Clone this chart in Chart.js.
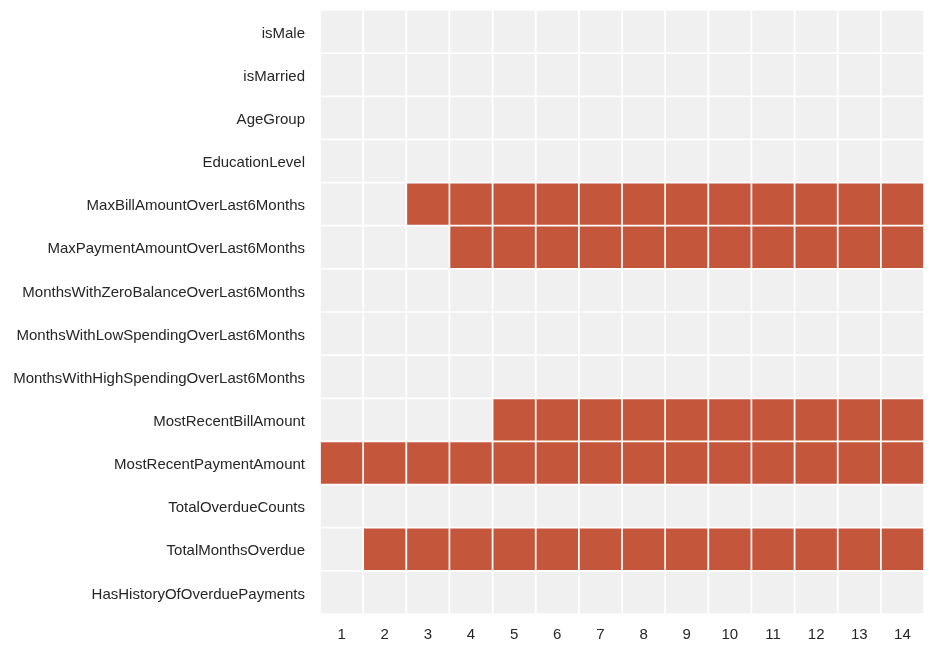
<!DOCTYPE html>
<html>
<head>
<meta charset="utf-8">
<script src="https://cdn.jsdelivr.net/npm/chart.js@4/dist/chart.umd.min.js"></script>
<style>
  html, body { margin: 0; padding: 0; background: #fff; }
  #wrap { width: 933px; height: 651px; }
</style>
</head>
<body>
<div id="wrap"><canvas id="heat"></canvas></div>
<script>
const features = [
  "isMale",
  "isMarried",
  "AgeGroup",
  "EducationLevel",
  "MaxBillAmountOverLast6Months",
  "MaxPaymentAmountOverLast6Months",
  "MonthsWithZeroBalanceOverLast6Months",
  "MonthsWithLowSpendingOverLast6Months",
  "MonthsWithHighSpendingOverLast6Months",
  "MostRecentBillAmount",
  "MostRecentPaymentAmount",
  "TotalOverdueCounts",
  "TotalMonthsOverdue",
  "HasHistoryOfOverduePayments",
];
const featureCounts = [1, 2, 3, 4, 5, 6, 7, 8, 9, 10, 11, 12, 13, 14];

// 1 = feature selected at that number of features
const selected = [
  [0, 0, 0, 0, 0, 0, 0, 0, 0, 0, 0, 0, 0, 0],
  [0, 0, 0, 0, 0, 0, 0, 0, 0, 0, 0, 0, 0, 0],
  [0, 0, 0, 0, 0, 0, 0, 0, 0, 0, 0, 0, 0, 0],
  [0, 0, 0, 0, 0, 0, 0, 0, 0, 0, 0, 0, 0, 0],
  [0, 0, 1, 1, 1, 1, 1, 1, 1, 1, 1, 1, 1, 1],
  [0, 0, 0, 1, 1, 1, 1, 1, 1, 1, 1, 1, 1, 1],
  [0, 0, 0, 0, 0, 0, 0, 0, 0, 0, 0, 0, 0, 0],
  [0, 0, 0, 0, 0, 0, 0, 0, 0, 0, 0, 0, 0, 0],
  [0, 0, 0, 0, 0, 0, 0, 0, 0, 0, 0, 0, 0, 0],
  [0, 0, 0, 0, 1, 1, 1, 1, 1, 1, 1, 1, 1, 1],
  [1, 1, 1, 1, 1, 1, 1, 1, 1, 1, 1, 1, 1, 1],
  [0, 0, 0, 0, 0, 0, 0, 0, 0, 0, 0, 0, 0, 0],
  [0, 1, 1, 1, 1, 1, 1, 1, 1, 1, 1, 1, 1, 1],
  [0, 0, 0, 0, 0, 0, 0, 0, 0, 0, 0, 0, 0, 0],
];

const onColor = "#c4563c";
const offColor = "#f0f0f0";
const textColor = "#262626";
const tickFont = { family: "'Liberation Sans', Arial, sans-serif", size: 15 };

const datasets = featureCounts.map((n, j) => {
  return {
    data: features.map(() => [n - 0.5, n + 0.5]),
    backgroundColor: features.map((f, i) => (selected[i][j] ? onColor : offColor)),
    borderColor: "#ffffff",
    borderWidth: 1.2,
    borderSkipped: false,
    barPercentage: 1,
    categoryPercentage: 1,
    grouped: false,
  };
});

new Chart("heat", {
  type: "bar",
  data: { labels: features, datasets: datasets },
  options: {
    indexAxis: "y",
    responsive: true,
    maintainAspectRatio: false,
    animation: false,
    layout: { padding: { top: 10, right: 9, left: 0, bottom: 0 } },
    plugins: {
      legend: { display: false },
      tooltip: { enabled: false },
    },
    scales: {
      x: {
        type: "linear",
        min: 0.5,
        max: 14.5,
        grid: { display: false, drawTicks: false },
        border: { display: false },
        ticks: { color: textColor, font: tickFont, padding: 12, maxRotation: 0 },
        afterBuildTicks: (scale) => {
          scale.ticks = featureCounts.map((v) => ({ value: v }));
        },
        afterFit: (scale) => {
          scale.height = 37;
          scale.paddingLeft = 0;
          scale.paddingRight = 0;
        },
      },
      y: {
        grid: { display: false, drawTicks: false },
        border: { display: false },
        ticks: { color: textColor, font: tickFont, padding: 15, labelOffset: 2 },
        afterFit: (scale) => {
          scale.width = 320;
          scale.paddingTop = 0;
          scale.paddingBottom = 0;
        },
      },
    },
  },
});
</script>
</body>
</html>
